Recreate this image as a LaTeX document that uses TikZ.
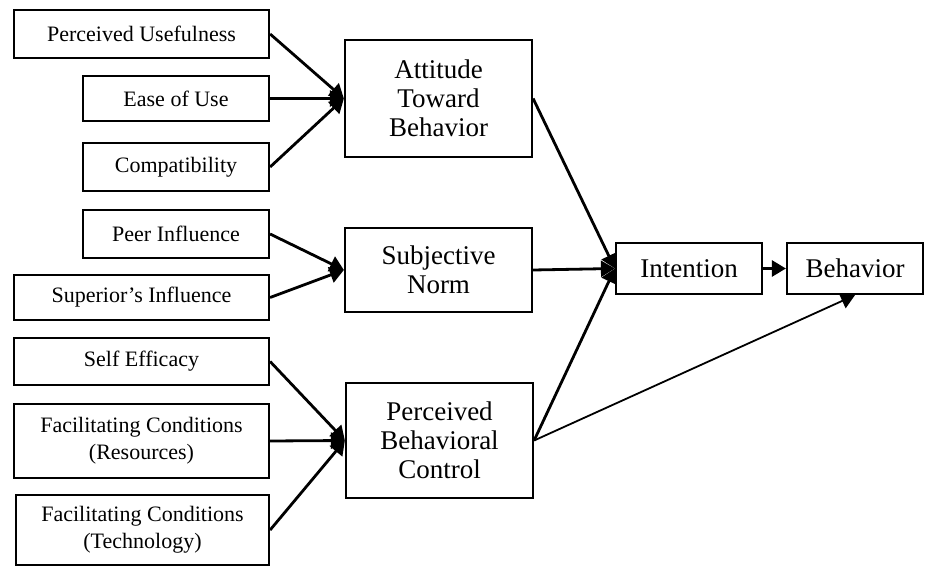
\documentclass[tikz,border=0pt]{standalone}
\usepackage{fontspec}
\setmainfont{Liberation Serif}
\usetikzlibrary{arrows.meta}
\begin{document}
\begin{tikzpicture}[x=1pt,y=-1pt,
  lbox/.style={draw,line width=2.2pt,inner sep=0pt,align=center,font=\fontsize{22}{27}\selectfont},
  mbox/.style={draw,line width=2.2pt,inner sep=0pt,align=center,font=\fontsize{27}{29}\selectfont},
  conn/.style={line width=2.8pt,-{Triangle[length=14pt,width=16pt]}},
  thinconn/.style={line width=1.8pt,-{Triangle[length=14pt,width=16pt]}}]
\useasboundingbox (0,0) rectangle (926,567);
% left boxes
\node[lbox,minimum width=255pt,minimum height=48pt] (pu) at (141.5,34) {Perceived Usefulness};
\node[lbox,minimum width=186pt,minimum height=45pt] (eou) at (176,98.5) {Ease of Use};
\node[lbox,minimum width=186pt,minimum height=48pt] (comp) at (176,167) {Compatibility};
\node[lbox,minimum width=186pt,minimum height=48pt] (peer) at (176,234) {Peer Influence};
\node[lbox,minimum width=255pt,minimum height=45pt] (sup) at (141.5,297.5) {Superior’s Influence};
\node[lbox,minimum width=255pt,minimum height=47pt] (se) at (141.5,361.5) {Self Efficacy};
\node[lbox,minimum width=255pt,minimum height=74pt] (fcr) at (141.5,441) {Facilitating Conditions\\(Resources)};
\node[lbox,minimum width=253pt,minimum height=70pt] (fct) at (142.5,530) {Facilitating Conditions\\(Technology)};
% middle boxes
\node[mbox,minimum width=187pt,minimum height=117pt] (att) at (438.5,98.5) {Attitude\\Toward\\Behavior};
\node[mbox,minimum width=187pt,minimum height=84pt] (sn) at (438.5,270) {Subjective\\Norm};
\node[mbox,minimum width=187pt,minimum height=115pt] (pbc) at (439.5,440.5) {Perceived\\Behavioral\\Control};
% right boxes
\node[mbox,minimum width=146pt,minimum height=51pt] (int) at (689,268.5) {Intention};
\node[mbox,minimum width=136pt,minimum height=51pt] (beh) at (855,268.5) {Behavior};
% connectors
\draw[conn] (pu.east) -- (att.west);
\draw[conn] (eou.east) -- (att.west);
\draw[conn] (comp.east) -- (att.west);
\draw[conn] (peer.east) -- (sn.west);
\draw[conn] (sup.east) -- (sn.west);
\draw[conn] (se.east) -- (pbc.west);
\draw[conn] (fcr.east) -- (pbc.west);
\draw[conn] (fct.east) -- (pbc.west);
\draw[conn] (att.east) -- (int.west);
\draw[conn] (sn.east) -- (int.west);
\draw[conn] (pbc.east) -- (int.west);
\draw[conn] (int.east) -- (beh.west);
\draw[thinconn] (pbc.east) -- (beh.south);
\end{tikzpicture}
\end{document}
